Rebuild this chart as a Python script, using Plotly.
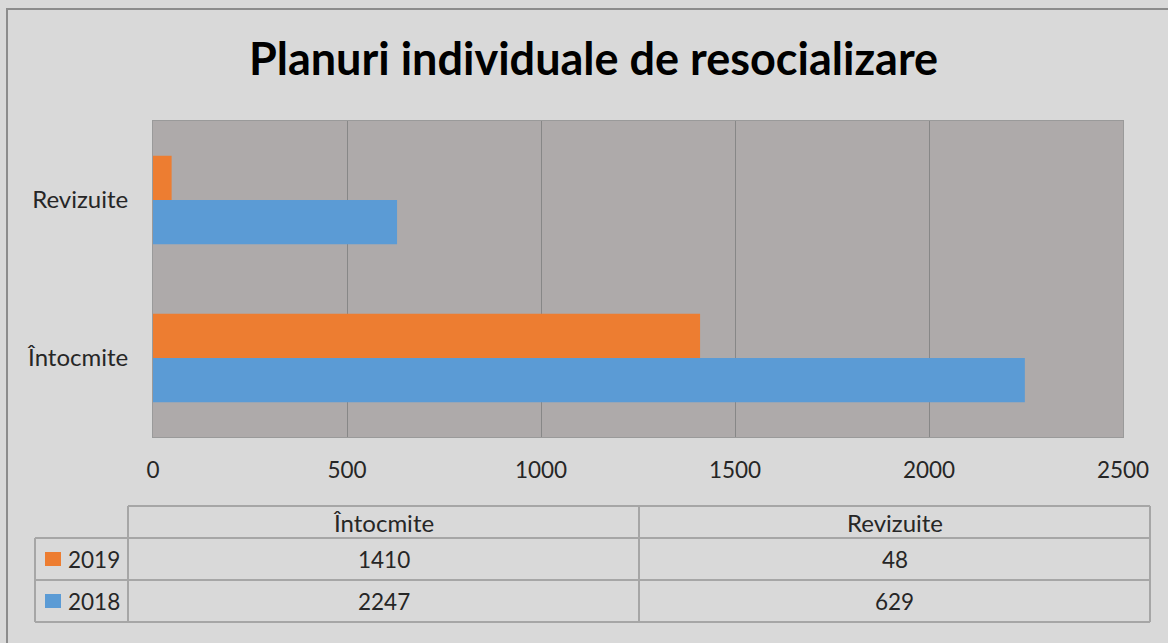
import plotly.graph_objects as go

categories = ["Întocmite", "Revizuite"]
series_names = ["2018", "2019"]
values_2018 = [2247, 629]
values_2019 = [1410, 48]
x_ticks = [0, 500, 1000, 1500, 2000, 2500]

colors = {"2018": "#5b9bd5", "2019": "#ed7d31"}
FONT = "Lato"
W, H = 1168, 643
L, R, T, B = 153, 1123, 121, 437
NUM = 22.5
TXT = 24

def px(xp):
    return (xp - L) / (R - L)

def py(yp):
    return (B - yp) / (B - T)

fig = go.Figure()
fig.add_trace(go.Bar(y=categories, x=values_2018, name="2018", orientation="h",
                     marker=dict(color=colors["2018"], line=dict(width=0))))
fig.add_trace(go.Bar(y=categories, x=values_2019, name="2019", orientation="h",
                     marker=dict(color=colors["2019"], line=dict(width=0))))

fig.update_layout(
    width=W, height=H,
    margin=dict(l=L, r=W - R, t=T, b=H - B),
    paper_bgcolor="#d9d9d9", plot_bgcolor="#aeaaaa",
    barmode="group", bargap=0.44, bargroupgap=0,
    showlegend=False,
    title=dict(text="<b>Planuri individuale de resocializare</b>", x=593.5 / W, xanchor="center",
               xref="container", y=1 - 59.5 / H, yanchor="middle",
               font=dict(family=FONT, size=45, color="#000000")),
    font=dict(family=FONT, color="#262626"),
    xaxis=dict(range=[0, 2500], tickvals=x_ticks, showgrid=True, gridcolor="#878787",
               gridwidth=1, zeroline=False, tickfont=dict(size=NUM, color="#262626"),
               ticks="", ticklabelstandoff=13, showline=True, linecolor="#9a9a9a",
               mirror=True, fixedrange=True),
    yaxis=dict(tickfont=dict(size=TXT, color="#262626"), ticks="", ticklabelstandoff=19,
               showline=True, linecolor="#9a9a9a", mirror=True, fixedrange=True),
)

shapes = []
# outer chart border
shapes.append(dict(type="rect", xref="paper", yref="paper",
                   x0=px(7), x1=px(1180), y0=py(655), y1=py(9),
                   line=dict(color="#8c8c8c", width=2), fillcolor="rgba(0,0,0,0)", layer="below"))

# data table
tcol = [35, 128, 639, 1150]
trow = [506, 538, 580, 622]
lc = "#a6a6a6"
def hline(x0, x1, y):
    shapes.append(dict(type="line", xref="paper", yref="paper", x0=px(x0), x1=px(x1),
                       y0=py(y), y1=py(y), line=dict(color=lc, width=2)))
def vline(x, y0, y1):
    shapes.append(dict(type="line", xref="paper", yref="paper", x0=px(x), x1=px(x),
                       y0=py(y0), y1=py(y1), line=dict(color=lc, width=2)))

hline(tcol[1], tcol[3], trow[0])
for y in trow[1:]:
    hline(tcol[0], tcol[3], y)
vline(tcol[0], trow[1], trow[3])
for x in tcol[1:]:
    vline(x, trow[0], trow[3])

annotations = []
for j, cat in enumerate(categories):
    cx = (tcol[1 + j] + tcol[2 + j]) / 2
    annotations.append(dict(xref="paper", yref="paper", x=px(cx), y=py((trow[0] + trow[1]) / 2),
                            xanchor="center", yanchor="middle",
                            text=cat, showarrow=False, font=dict(family=FONT, size=TXT, color="#262626")))

table_rows = [("2019", values_2019), ("2018", values_2018)]
for i, (name, vals) in enumerate(table_rows):
    yc = (trow[1 + i] + trow[2 + i]) / 2
    shapes.append(dict(type="rect", xref="paper", yref="paper",
                       x0=px(45), x1=px(61), y0=py(yc + 7), y1=py(yc - 7),
                       fillcolor=colors[name], line=dict(width=0)))
    annotations.append(dict(xref="paper", yref="paper", x=px(66), y=py(yc), xanchor="left",
                            yanchor="middle",
                            text=name, showarrow=False, font=dict(family=FONT, size=NUM, color="#262626")))
    for j, v in enumerate(vals):
        cx = (tcol[1 + j] + tcol[2 + j]) / 2
        annotations.append(dict(xref="paper", yref="paper", x=px(cx), y=py(yc),
                                xanchor="center", yanchor="middle",
                                text=str(v), showarrow=False, font=dict(family=FONT, size=NUM, color="#262626")))

fig.update_layout(shapes=shapes, annotations=annotations)
fig.write_html("out.html", config={"displayModeBar": False},
               post_script="document.body.style.margin='0';")
